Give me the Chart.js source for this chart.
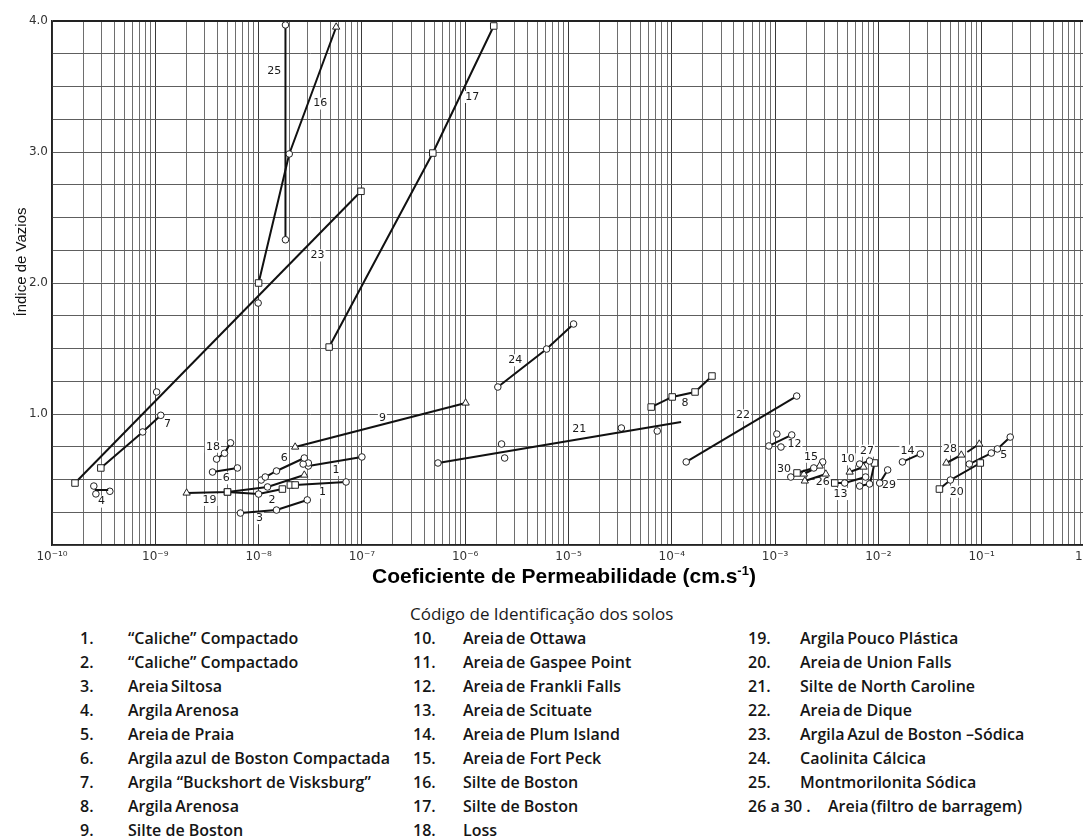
<!DOCTYPE html>
<html>
<head>
<meta charset="utf-8">
<script src="https://cdn.jsdelivr.net/npm/chart.js@4.4.1/dist/chart.umd.min.js"></script>
<style>
  html, body { margin: 0; padding: 0; background: #fff; overflow: hidden; width: 1083px; height: 839px; }
  #wrap { position: relative; width: 1083px; height: 839px; }
  canvas { position: absolute; left: 0; top: 0; }
  .leg { position: absolute; font: 600 16px "Open Sans", sans-serif; color: #151515; white-space: nowrap; line-height: 20px; }
  .leg.title { font-weight: 400; font-size: 17px; color: #1a1a1a; }
</style>
</head>
<body>
<div id="wrap">
  <canvas id="c" width="1100" height="600"></canvas>
  <div id="legend"></div>
</div>
<script>
// ---------------------------------------------------------------------
// Dados: [k (cm/s), índice de vazios]
// ---------------------------------------------------------------------
const s1a = [[3.03e-8, 0.603], [1.0e-7, 0.672]];
const s1b = [[2.03e-8, 0.458], [2.26e-8, 0.458], [7.03e-8, 0.481]];
const s2 = [[5.0e-9, 0.405], [1.0e-8, 0.389], [1.70e-8, 0.427]];
const s3 = [[6.67e-9, 0.244], [1.49e-8, 0.267], [2.96e-8, 0.344]];
const s4 = [[2.6e-10, 0.42], [3.5e-10, 0.42]];
const s4pts = [[2.54e-10, 0.45], [2.66e-10, 0.39], [3.63e-10, 0.41]];
const s5 = [[7.59e-2, 0.618], [1.24e-1, 0.702], [1.42e-1, 0.733], [1.89e-1, 0.824]];
const s6a = [[3.58e-9, 0.557], [6.24e-9, 0.588]];
const s6b = [[1.06e-8, 0.496], [1.16e-8, 0.519], [1.49e-8, 0.565], [2.77e-8, 0.664]];
const s6pts = [[3.03e-8, 0.626], [2.70e-8, 0.618]];
const s7 = [[2.97e-10, 0.588], [7.55e-10, 0.863], [1.13e-9, 0.99]];
const s8 = [[6.32e-5, 1.053], [1.01e-4, 1.13], [1.68e-4, 1.168], [2.45e-4, 1.29]];
const s9 = [[2.26e-8, 0.748], [1.01e-6, 1.084]];
const s10 = [[5.27e-3, 0.557], [7.19e-3, 0.595]];
const s12 = [[8.71e-4, 0.756], [1.45e-3, 0.84]];
const s12pts = [[1.04e-3, 0.847], [1.14e-3, 0.748]];
const s13 = [[3.78e-3, 0.473], [4.72e-3, 0.473], [7.52e-3, 0.519]];
const s14 = [[1.71e-2, 0.634], [2.55e-2, 0.695]];
const s15 = [[1.90e-3, 0.542], [2.70e-3, 0.603]];
const s15pts = [[2.89e-3, 0.634]];
const s16 = [[1.0e-8, 2.0], [1.98e-8, 2.985], [5.64e-8, 3.954]];
const s17 = [[4.82e-8, 1.511], [4.86e-7, 2.992], [1.89e-6, 3.962]];
const s18 = [[3.92e-9, 0.656], [4.68e-9, 0.70], [5.35e-9, 0.78]];
const s19 = [[2.01e-9, 0.397], [5.0e-9, 0.405], [1.22e-8, 0.443], [2.77e-8, 0.534]];
const s20 = [[3.90e-2, 0.427], [4.98e-2, 0.496], [9.70e-2, 0.626]];
const s21 = [[5.45e-7, 0.626], [1.23e-4, 0.939]];
const s21pts = [[2.25e-6, 0.771], [2.41e-6, 0.664], [3.25e-5, 0.893], [7.23e-5, 0.87]];
const s22 = [[1.38e-4, 0.634], [1.62e-3, 1.137]];
const s23 = [[1.67e-10, 0.473], [9.8e-8, 2.70]];
const s23pts = [[1.03e-9, 1.168], [9.9e-9, 1.847]];
const s24 = [[2.07e-6, 1.206], [6.14e-6, 1.496], [1.12e-5, 1.687]];
const s25 = [[1.82e-8, 2.33], [1.82e-8, 3.97]];
const s26 = [[1.94e-3, 0.489], [3.10e-3, 0.542]];
const s27 = [[6.59e-3, 0.618], [8.22e-3, 0.641]];
const s27b = [[9.18e-3, 0.626], [8.41e-3, 0.489]];
const s28a = [[4.55e-2, 0.626], [6.35e-2, 0.687]];
const s28b = [[7.26e-2, 0.71], [9.48e-2, 0.771]];
const s29a = [[6.59e-3, 0.45], [8.22e-3, 0.466]];
const s29b = [[1.03e-2, 0.473], [1.23e-2, 0.573]];
const s30 = [[1.42e-3, 0.519], [1.63e-3, 0.55], [2.37e-3, 0.588]];

// números de identificação sobre o gráfico: [texto, k, e]
const tags = [
  ['1', 5.6e-8, 0.573], ['1', 4.16e-8, 0.40], ['2', 1.35e-8, 0.344], ['3', 1.02e-8, 0.204],
  ['4', 3.02e-10, 0.331], ['5', 1.64e-1, 0.687], ['6', 4.85e-9, 0.509], ['6', 1.77e-8, 0.662],
  ['7', 1.31e-9, 0.921], ['8', 1.34e-4, 1.08], ['9', 1.58e-7, 0.97], ['10', 5.05e-3, 0.654],
  ['12', 1.54e-3, 0.771], ['13', 4.29e-3, 0.389], ['14', 1.91e-2, 0.72], ['15', 2.23e-3, 0.674],
  ['16', 3.95e-8, 3.37], ['17', 1.17e-6, 3.42], ['18', 3.61e-9, 0.75], ['19', 3.35e-9, 0.344],
  ['20', 5.73e-2, 0.407], ['21', 1.27e-5, 0.883], ['22', 4.89e-4, 0.99], ['23', 3.72e-8, 2.21],
  ['24', 3.06e-6, 1.41], ['25', 1.42e-8, 3.62], ['26', 2.89e-3, 0.483], ['27', 7.74e-3, 0.72],
  ['28', 4.94e-2, 0.73], ['29', 1.27e-2, 0.458], ['30', 1.22e-3, 0.578]
];

// eixos
const decades = [-10, -9, -8, -7, -6, -5, -4, -3, -2, -1, 0];
const yLabels = [1, 2, 3, 4];

// legenda
const soilCodes = ['1.', '2.', '3.', '4.', '5.', '6.', '7.', '8.', '9.',
  '10.', '11.', '12.', '13.', '14.', '15.', '16.', '17.', '18.',
  '19.', '20.', '21.', '22.', '23.', '24.', '25.', '26 a 30 .'];
const soilNames = [
  '\u201CCaliche\u201D Compactado', '\u201CCaliche\u201D Compactado', 'Areia\u2009Siltosa',
  'Argila\u2009Arenosa', 'Areia\u2009de Praia', 'Argila\u2009azul de Boston Compactada',
  'Argila \u201CBuckshort de Visksburg\u201D', 'Argila\u2009Arenosa', 'Silte de Boston',
  'Areia\u2009de Ottawa', 'Areia\u2009de Gaspee Point', 'Areia\u2009de Frankli Falls',
  'Areia\u2009de Scituate', 'Areia\u2009de Plum Island', 'Areia\u2009de Fort Peck',
  'Silte de Boston', 'Silte de Boston', 'Loss',
  'Argila\u2009Pouco Plástica', 'Areia\u2009de Union Falls', 'Silte de North Caroline',
  'Areia\u2009de Dique', 'Argila\u2009Azul de Boston \u2013Sódica', 'Caolinita Cálcica',
  'Montmorilonita Sódica', 'Areia\u2009(filtro de barragem)'];
const legendTitle = 'Código de Identificação dos solos';

// ---------------------------------------------------------------------
// séries -> datasets
// ---------------------------------------------------------------------
const series = [
  { pts: s23, mk: ['rect', 'rect'] }, { pts: s23pts, mk: 'circle', line: false },
  { pts: s16, mk: ['rect', 'circle', 'triangle'] }, { pts: s25, mk: 'circle' },
  { pts: s17, mk: 'rect' }, { pts: s24, mk: 'circle' },
  { pts: s9, mk: 'triangle' }, { pts: s7, mk: ['rect', 'circle', 'circle'] },
  { pts: s4, mk: null }, { pts: s4pts, mk: 'circle', line: false },
  { pts: s18, mk: 'circle' }, { pts: s6a, mk: 'circle' }, { pts: s6b, mk: 'circle' },
  { pts: s6pts, mk: 'circle', line: false },
  { pts: s19, mk: ['triangle', 'rect', 'circle', 'triangle'] },
  { pts: s2, mk: ['rect', 'circle', 'rect'] }, { pts: s3, mk: 'circle' },
  { pts: s1a, mk: 'circle' }, { pts: s1b, mk: ['rect', 'rect', 'circle'] },
  { pts: s21, mk: ['circle', null] }, { pts: s21pts, mk: 'circle', line: false },
  { pts: s8, mk: 'rect' }, { pts: s22, mk: 'circle' },
  { pts: s12, mk: 'circle' }, { pts: s12pts, mk: 'circle', line: false },
  { pts: s30, mk: ['circle', 'rect', 'circle'] }, { pts: s15, mk: 'triangle' },
  { pts: s15pts, mk: 'circle', line: false }, { pts: s26, mk: 'triangle' },
  { pts: s13, mk: ['rect', 'circle', 'circle'] }, { pts: s10, mk: 'triangle' },
  { pts: s27, mk: 'circle' }, { pts: s27b, mk: ['rect', null] },
  { pts: s29a, mk: 'circle' }, { pts: s29b, mk: 'circle' },
  { pts: s14, mk: 'circle' }, { pts: s28a, mk: 'triangle' }, { pts: s28b, mk: [null, 'triangle'] },
  { pts: s20, mk: ['rect', 'circle', 'rect'] }, { pts: s5, mk: 'circle' }
];

const datasets = series.map(s => {
  const mk = Array.isArray(s.mk) ? s.mk : s.pts.map(() => s.mk);
  return {
    data: s.pts.map(([x, y]) => ({ x, y })),
    showLine: s.line !== false,
    borderColor: '#111',
    borderWidth: 2,
    pointStyle: mk.map(m => m || 'circle'),
    pointRadius: mk.map(m => m === null ? 0 : m === 'rect' ? 4.6 : m === 'triangle' ? 4.2 : 3.3),
    pointBackgroundColor: '#fff',
    pointBorderColor: '#222',
    pointBorderWidth: 1
  };
});

const SUP = { '-': '\u207B', '0': '\u2070', '1': '\u00B9', '2': '\u00B2', '3': '\u00B3',
  '4': '\u2074', '5': '\u2075', '6': '\u2076', '7': '\u2077', '8': '\u2078', '9': '\u2079' };
const sup = n => String(n).split('').map(c => SUP[c]).join('');

// números sobre as linhas + títulos dos eixos
const annotations = {
  id: 'annotations',
  beforeDatasetsDraw(chart) {
    const { ctx, scales: { x, y } } = chart;
    ctx.save();
    ctx.font = '11px "DejaVu Sans", sans-serif';
    ctx.textAlign = 'center';
    ctx.textBaseline = 'middle';
    for (const [t, k, e] of tags) {
      const px = x.getPixelForValue(k), py = y.getPixelForValue(e);
      const w = ctx.measureText(t).width;
      ctx.fillStyle = '#fff';
      ctx.fillRect(px - w / 2 - 1, py - 6, w + 2, 12);
      ctx.fillStyle = '#1a1a1a';
      ctx.fillText(t, px, py);
    }
    ctx.restore();
  },
  afterDraw(chart) {
    const { ctx } = chart;
    ctx.save();
    ctx.fillStyle = '#111';
    // título eixo y
    ctx.translate(22, 262);
    ctx.rotate(-Math.PI / 2);
    ctx.font = '15px "Liberation Sans", Arial, sans-serif';
    ctx.textAlign = 'center';
    ctx.textBaseline = 'middle';
    ctx.fillText('Índice de Vazios', 0, 0);
    ctx.restore();

    // título eixo x com expoente
    ctx.save();
    ctx.fillStyle = '#000';
    ctx.textBaseline = 'alphabetic';
    ctx.textAlign = 'left';
    const big = 'bold 21px "Liberation Sans", Arial, sans-serif';
    const small = 'bold 13px "Liberation Sans", Arial, sans-serif';
    const a = 'Coeficiente de Permeabilidade (cm.s', e = '-1', b = ')';
    ctx.font = big;
    const wa = ctx.measureText(a).width, wb = ctx.measureText(b).width;
    ctx.font = small;
    const we = ctx.measureText(e).width;
    let x0 = 564 - (wa + we + wb) / 2;
    const base = 583;
    ctx.font = big; ctx.fillText(a, x0, base);
    ctx.font = small; ctx.fillText(e, x0 + wa, base - 8);
    ctx.font = big; ctx.fillText(b, x0 + wa + we, base);
    ctx.restore();
  }
};

const isDecade = v => {
  const e = Math.round(Math.log10(v));
  return Math.abs(v / Math.pow(10, e) - 1) < 1e-6;
};

new Chart(document.getElementById('c'), {
  type: 'scatter',
  data: { datasets },
  options: {
    responsive: false,
    animation: false,
    events: [],
    layout: { padding: { top: 21, right: 12, bottom: 0, left: 0 } },
    plugins: { legend: { display: false }, tooltip: { enabled: false } },
    scales: {
      x: {
        type: 'logarithmic',
        min: 1e-10,
        max: 1,
        afterBuildTicks(scale) {
          const t = [];
          decades.forEach(d => {
            for (let m = 1; m <= 9; m++) {
              const v = m * Math.pow(10, d);
              if (v <= 1.0000001) t.push({ value: v });
            }
          });
          scale.ticks = t;
        },
        afterFit(scale) { scale.height = 55; },
        grid: {
          drawTicks: false,
          color: c => (c.tick && isDecade(c.tick.value)) ? '#3a3a3a' : '#6e6e6e',
          lineWidth: 1
        },
        border: { display: true, color: '#222', width: 1.5 },
        ticks: {
          autoSkip: false,
          maxRotation: 0,
          padding: 5,
          color: '#333',
          font: { family: '"DejaVu Sans", sans-serif', size: 12 },
          callback: v => isDecade(v) ? '10' + sup(Math.round(Math.log10(v))) : ''
        }
      },
      y: {
        type: 'linear',
        min: 0,
        max: 4,
        afterFit(scale) { scale.width = 52; },
        grid: {
          drawTicks: false,
          color: c => (c.tick && c.tick.value === 4) ? '#222' : '#5e5e5e',
          lineWidth: c => (c.tick && c.tick.value === 4) ? 2 : 1
        },
        border: { display: true, color: '#222', width: 1.5 },
        ticks: {
          stepSize: 0.25,
          padding: 4,
          color: '#333',
          font: { family: '"DejaVu Sans", sans-serif', size: 12 },
          callback: v => yLabels.includes(v) ? v.toFixed(1) : ''
        }
      }
    }
  },
  plugins: [annotations]
});

// legenda em três colunas
const legend = document.getElementById('legend');
const cols = [
  { from: 0, to: 9, numX: 80, textX: 128 },
  { from: 9, to: 18, numX: 413, textX: 463 },
  { from: 18, to: 26, numX: 748, textX: 800 }
];
const add = (txt, left, top, cls) => {
  const d = document.createElement('div');
  d.className = 'leg' + (cls ? ' ' + cls : '');
  d.style.left = left + 'px';
  d.style.top = top + 'px';
  d.textContent = txt;
  legend.appendChild(d);
};
add(legendTitle, 410, 604, 'title');
cols.forEach(c => {
  for (let i = c.from; i < c.to; i++) {
    const top = 628 + (i - c.from) * 24;
    const last = soilCodes[i].length > 4;
    add(soilCodes[i], c.numX, top);
    add(soilNames[i], last ? c.textX + 28 : c.textX, top);
  }
});
</script>
</body>
</html>
